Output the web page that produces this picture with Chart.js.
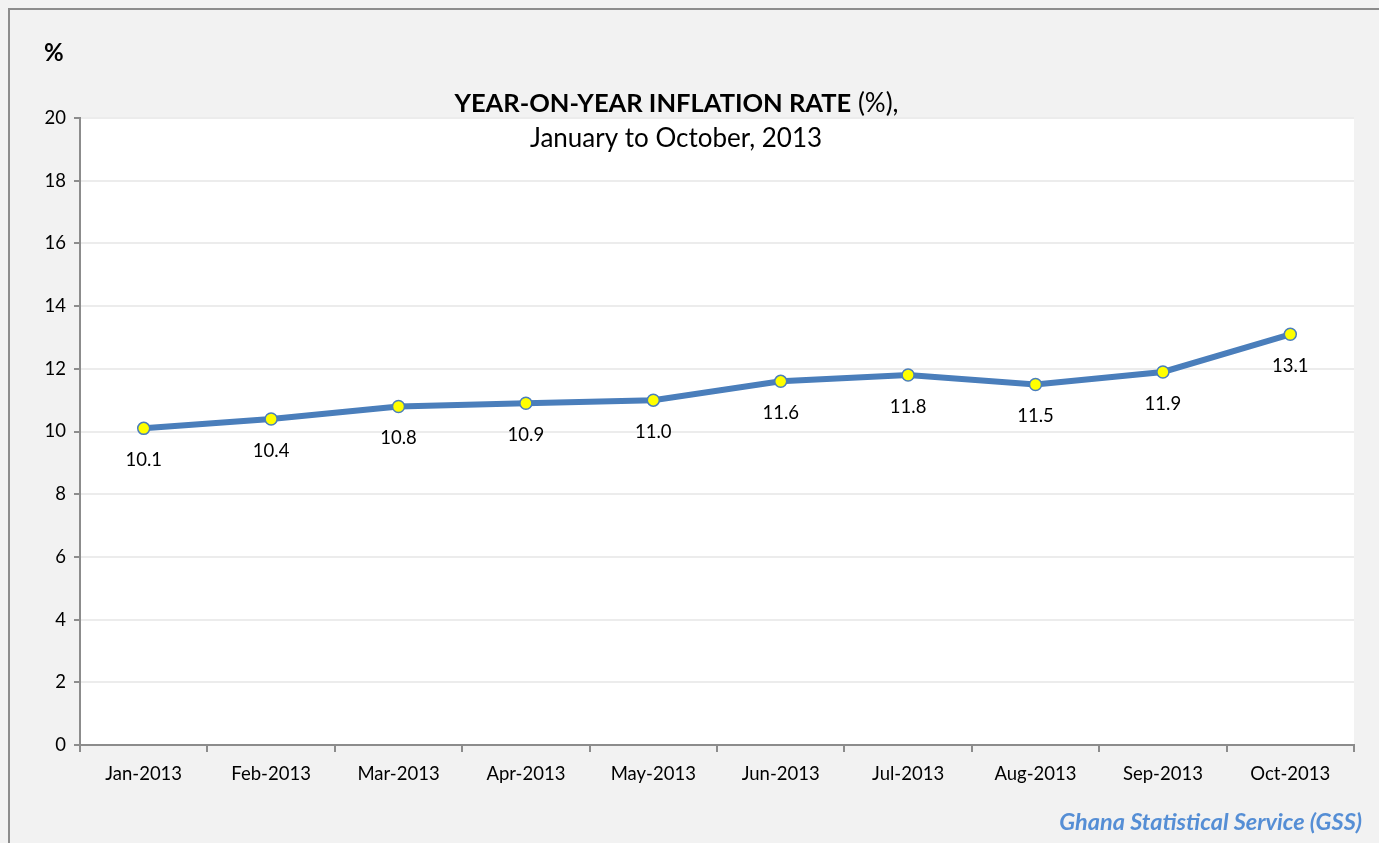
<!DOCTYPE html>
<html>
<head>
<meta charset="utf-8">
<script src="https://cdn.jsdelivr.net/npm/chart.js@4/dist/chart.umd.min.js"></script>
<style>
  html,body{margin:0;padding:0;background:#f2f2f2;}
  #wrap{width:1379px;height:843px;position:relative;}
</style>
</head>
<body>
<div id="wrap"><canvas id="c" width="1379" height="843"></canvas></div>
<script>
const months = ["Jan-2013","Feb-2013","Mar-2013","Apr-2013","May-2013","Jun-2013","Jul-2013","Aug-2013","Sep-2013","Oct-2013"];
const inflation = [10.1, 10.4, 10.8, 10.9, 11.0, 11.6, 11.8, 11.5, 11.9, 13.1];
const yTicks = [0, 2, 4, 6, 8, 10, 12, 14, 16, 18, 20];

const FONT = "Lato, 'Open Sans', sans-serif";

// background, frame and the extra texts
const decor = {
  id: "decor",
  beforeDraw(chart){
    const ctx = chart.ctx, a = chart.chartArea;
    ctx.save();
    ctx.fillStyle = "#f2f2f2";
    ctx.fillRect(0,0,chart.width,chart.height);
    ctx.strokeStyle = "#8c8c8c";
    ctx.lineWidth = 2;
    ctx.beginPath();
    ctx.moveTo(9, chart.height+5); ctx.lineTo(9,9); ctx.lineTo(chart.width+5,9);
    ctx.stroke();
    ctx.fillStyle = "#fff";
    ctx.fillRect(a.left, a.top, a.right-a.left, a.bottom-a.top);
    ctx.restore();
  },
  afterDraw(chart){
    const ctx = chart.ctx;
    ctx.save();
    ctx.fillStyle = "#000";
    ctx.textBaseline = "middle";
    ctx.font = "bold 24px " + FONT;
    ctx.textAlign = "left";
    ctx.fillText("%", 44, 53);

    // title line 1: bold part + normal part
    const b = "YEAR-ON-YEAR INFLATION RATE", n = " (%),";
    ctx.font = "bold 25.5px " + FONT;
    const wb = ctx.measureText(b).width;
    ctx.font = "25.5px " + FONT;
    const wn = ctx.measureText(n).width;
    const x0 = 676 - (wb+wn)/2;
    ctx.font = "bold 25.5px " + FONT;
    ctx.fillText(b, x0, 104);
    ctx.font = "26px " + FONT;
    ctx.fillText(n, x0+wb, 104);
    ctx.textAlign = "center";
    ctx.fillText("January to October, 2013", 676, 139);

    ctx.font = "italic bold 23.5px " + FONT;
    ctx.fillStyle = "#558ed5";
    ctx.textAlign = "right";
    ctx.fillText("Ghana Statistical Service (GSS)", 1362, 822);

    // data labels under the points
    const meta = chart.getDatasetMeta(0);
    ctx.font = "18.5px " + FONT;
    ctx.fillStyle = "#000";
    ctx.textAlign = "center";
    meta.data.forEach((p,i)=>{
      ctx.fillText(inflation[i].toFixed(1), p.x, p.y + 32);
    });
    ctx.restore();
  }
};

new Chart(document.getElementById("c"), {
  type: "line",
  data: {
    labels: months,
    datasets: [{
      data: inflation,
      borderColor: "#4a7ebb",
      borderWidth: 6,
      pointRadius: 6,
      pointBackgroundColor: "#ffff00",
      pointBorderColor: "#4a7ebb",
      pointBorderWidth: 1.5,
      tension: 0
    }]
  },
  options: {
    responsive: false,
    animation: false,
    layout: { padding: { left: 9, top: 118, right: 25, bottom: 0 } },
    plugins: { legend: { display: false }, tooltip: { enabled: false } },
    scales: {
      x: {
        offset: true,
        grid: { offset: true, drawOnChartArea: false, drawTicks: true, tickLength: 7, color: "#8c8c8c", lineWidth: 2 },
        border: { color: "#8c8c8c", width: 2 },
        ticks: { color: "#000", font: { family: FONT, size: 18.5 }, padding: 11, maxRotation: 0 },
        afterFit(s){ s.height = 98; }
      },
      y: {
        min: 0, max: 20,
        afterBuildTicks(s){ s.ticks = yTicks.map(v=>({value:v})); },
        grid: { color: "#ececec", lineWidth: 2, tickColor: "#8c8c8c", tickLength: 6 },
        border: { color: "#8c8c8c", width: 2 },
        ticks: { color: "#000", font: { family: FONT, size: 18.5 }, padding: 8 },
        afterFit(s){ s.width = 71; }
      }
    }
  },
  plugins: [decor]
});
</script>
</body>
</html>
